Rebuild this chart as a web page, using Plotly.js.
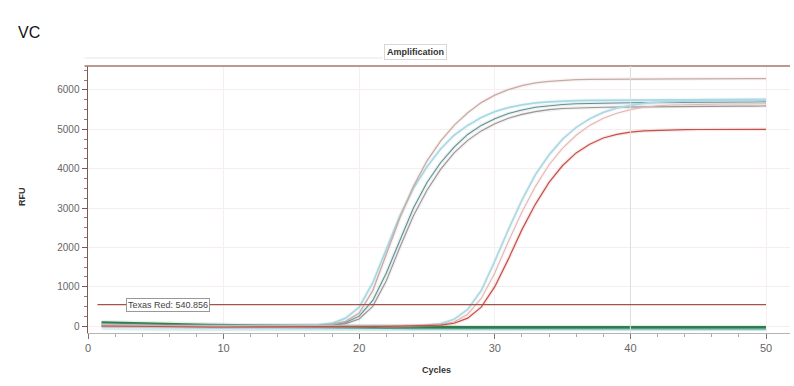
<!DOCTYPE html>
<html>
<head>
<meta charset="utf-8">
<script src="https://cdn.plot.ly/plotly-3.0.1.min.js"></script>
<style>html,body{margin:0;padding:0;background:#fff;}#chart{width:794px;height:386px;}</style>
</head>
<body>
<div id="chart"></div>
<script>
const cycles = [1,2,3,4,5,6,7,8,9,10,11,12,13,14,15,16,17,18,19,20,21,22,23,24,25,26,27,28,29,30,31,32,33,34,35,36,37,38,39,40,41,42,43,44,45,46,47,48,49,50];

const wellA = [20,15,10,5,0,-5,-5,-10,-10,-10,-10,-10,-10,-5,0,0,10,40,120,330,900,1800,2750,3550,4200,4700,5100,5420,5680,5870,6010,6110,6180,6220,6250,6265,6270,6275,6275,6280,6280,6280,6285,6285,6285,6290,6290,6290,6290,6290];
const wellB = [30,20,15,10,5,0,0,-5,-5,-5,-5,-5,0,0,5,10,20,70,200,480,1100,1950,2800,3500,4050,4500,4850,5100,5300,5450,5550,5620,5670,5700,5720,5730,5735,5740,5740,5745,5745,5750,5750,5750,5755,5755,5760,5760,5760,5760];
const wellC = [10,5,0,-5,-10,-10,-15,-15,-15,-15,-15,-10,-10,-10,-5,0,10,30,90,250,650,1350,2200,3000,3650,4150,4550,4870,5100,5270,5400,5490,5560,5600,5630,5650,5660,5665,5670,5675,5680,5680,5685,5685,5690,5690,5690,5695,5695,5700];
const wellD = [0,-5,-10,-10,-15,-15,-15,-20,-20,-20,-15,-15,-15,-10,-10,-5,5,20,60,180,500,1150,2000,2800,3450,3980,4400,4720,4960,5140,5280,5380,5450,5500,5530,5545,5555,5560,5565,5570,5575,5575,5580,5580,5585,5585,5590,5590,5590,5595];
const wellE = [20,10,5,0,-5,-10,-10,-15,-15,-15,-15,-15,-15,-15,-10,-10,-10,-5,-5,-5,0,0,5,10,20,60,170,420,900,1650,2450,3200,3850,4350,4750,5050,5270,5430,5540,5610,5660,5690,5710,5720,5725,5730,5730,5735,5735,5740];
const wellF = [10,5,0,-5,-10,-10,-15,-15,-20,-20,-20,-20,-20,-20,-15,-15,-15,-10,-10,-10,-5,-5,0,5,10,30,100,300,700,1350,2150,2900,3550,4100,4520,4850,5100,5280,5410,5500,5560,5600,5620,5630,5635,5640,5645,5645,5650,5650];
const wellG = [0,-5,-10,-15,-15,-20,-20,-20,-25,-25,-25,-25,-25,-20,-20,-20,-20,-15,-15,-15,-10,-10,-5,0,5,20,70,200,480,1000,1700,2450,3100,3650,4080,4400,4620,4780,4870,4930,4960,4975,4985,4990,4995,4995,5000,5000,5000,5000];
const base1 = [90,80,70,60,50,45,40,35,30,25,20,15,10,5,0,-5,-10,-15,-20,-25,-20,-15,-20,-25,-25,-30,-30,-30,-30,-30,-30,-30,-30,-35,-35,-30,-30,-30,-35,-35,-35,-30,-30,-30,-35,-35,-35,-30,-30,-30];
const base2 = [40,30,20,10,0,-10,-20,-25,-30,-30,-35,-35,-40,-40,-40,-45,-45,-50,-50,-55,-60,-60,-60,-65,-65,-65,-65,-70,-70,-70,-70,-70,-70,-70,-70,-70,-75,-75,-75,-75,-75,-75,-75,-75,-75,-75,-75,-75,-75,-75];
const base3 = [-60,-70,-75,-80,-85,-85,-90,-90,-90,-90,-90,-90,-90,-90,-90,-90,-90,-90,-90,-90,-90,-90,-90,-90,-90,-90,-90,-90,-90,-90,-90,-90,-90,-90,-90,-90,-90,-90,-90,-90,-90,-90,-90,-90,-90,-90,-90,-90,-90,-90];

const thresholdValue = 540.856;
const thresholdLabel = "Texas Red: 540.856";
const xTicks = [0,10,20,30,40,50];
const yTicks = [0,1000,2000,3000,4000,5000,6000];

const series = [
  {y: base3, color: "#d6edf2", width: 3},
  {y: base2, color: "#5aa394", width: 1.2},
  {y: base1, color: "#2e7d4a", width: 2.2},
  {y: wellB, color: "#a8d8e3", width: 1.8},
  {y: wellD, color: "#9a9592", width: 1.1},
  {y: wellC, color: "#5f9094", width: 1.1},
  {y: wellA, color: "#c9aaa2", width: 1.3},
  {y: wellE, color: "#aed9e3", width: 1.8},
  {y: wellF, color: "#e4b6b3", width: 1.1},
  {y: wellG, color: "#c6504a", width: 1.2}
];

const traces = [];
series.forEach(s => {
  traces.push({x: cycles, y: s.y, type: "scatter", mode: "lines",
    line: {color: s.color, width: s.width + 2.5}, opacity: 0.12, hoverinfo: "skip", showlegend: false});
  traces.push({x: cycles, y: s.y, type: "scatter", mode: "lines",
    line: {color: s.color, width: s.width}, showlegend: false});
});

const layout = {
  width: 794, height: 386,
  margin: {l: 88, r: 4, t: 66, b: 53},
  paper_bgcolor: "#ffffff", plot_bgcolor: "#ffffff",
  font: {family: "Liberation Sans, Arial, sans-serif", color: "#555"},
  showlegend: false,
  xaxis: {
    range: [0, 51.77], tickvals: xTicks, ticktext: xTicks.map(String),
    ticks: "outside", ticklen: 5, tickcolor: "#777", tickfont: {size: 11, color: "#666"},
    showline: true, linecolor: "#b5b5b5", linewidth: 1,
    showgrid: true, gridcolor: "#f4f0f0", zeroline: false,
    minor: {dtick: 2, ticks: "outside", ticklen: 3, tickcolor: "#aaa", showgrid: false}
  },
  yaxis: {
    range: [-178, 6610], tickvals: yTicks, ticktext: yTicks.map(String),
    ticks: "outside", ticklen: 5, tickcolor: "#7a5a50", tickfont: {size: 10, color: "#666"},
    showline: true, linecolor: "#7a5a50", linewidth: 1.5,
    showgrid: true, gridcolor: "#f6eeee", zeroline: false,
    minor: {dtick: 250, ticks: "outside", ticklen: 3, tickcolor: "#9a7a70", showgrid: false}
  },
  shapes: [
    {type: "line", xref: "paper", yref: "paper", x0: -0.005, x1: 1, y0: 1, y1: 1, line: {color: "#a07868", width: 1.5}},
    {type: "line", xref: "paper", yref: "paper", x0: -0.005, x1: 0.42, y0: 1.03, y1: 1.03, line: {color: "#e6e6e6", width: 1}},
    {type: "line", xref: "x", yref: "paper", x0: 40, x1: 40, y0: 0, y1: 1, line: {color: "#dedede", width: 1}},
    {type: "line", xref: "x", yref: "y", x0: 0.7, x1: 50, y0: thresholdValue, y1: thresholdValue, line: {color: "#a4524a", width: 1.3}}
  ],
  annotations: [
    {text: "VC", xref: "paper", yref: "paper", x: -0.1026, y: 1.127, xanchor: "left", yanchor: "middle", showarrow: false,
      font: {size: 16, color: "#111", family: "Liberation Sans, Arial, sans-serif"}},
    {text: "<b>Amplification</b>", xref: "paper", yref: "paper", x: 0.466, y: 1.052, xanchor: "center", yanchor: "middle", showarrow: false,
      font: {size: 9, color: "#333"}, bgcolor: "#ffffff", bordercolor: "#d8d8d8", borderwidth: 1, borderpad: 2},
    {text: "<b>RFU</b>", xref: "paper", yref: "paper", x: -0.094, y: 0.509, textangle: -90, xanchor: "center", yanchor: "middle", showarrow: false,
      font: {size: 9, color: "#333"}},
    {text: "<b>Cycles</b>", xref: "paper", yref: "paper", x: 0.497, y: -0.139, xanchor: "center", yanchor: "middle", showarrow: false,
      font: {size: 9, color: "#333"}},
    {text: thresholdLabel, xref: "x", yref: "y", x: 5.9, y: thresholdValue, xanchor: "center", yanchor: "middle", showarrow: false,
      font: {size: 9, color: "#444"}, bgcolor: "#ffffff", bordercolor: "#999", borderwidth: 1, borderpad: 1}
  ]
};

Plotly.newPlot("chart", traces, layout, {displayModeBar: false, staticPlot: true});
</script>
</body>
</html>
